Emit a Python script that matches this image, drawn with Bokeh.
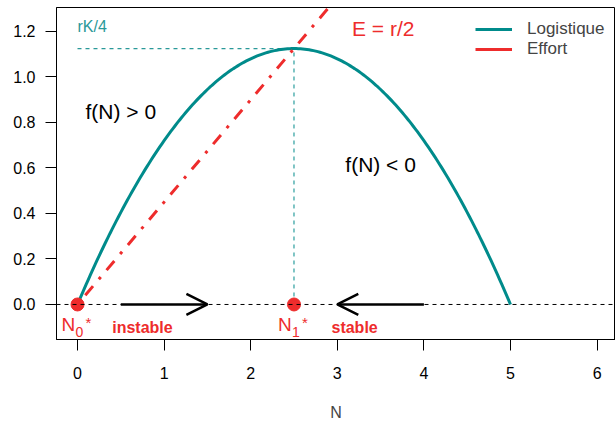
import numpy as np
from bokeh.plotting import figure
from bokeh.models import (Range1d, FixedTicker, Arrow, OpenHead, Legend, LegendItem,
                          ColumnDataSource, PrintfTickFormatter, Span)
from bokeh.embed import file_html
from bokeh.resources import INLINE
from bokeh.core.properties import value

# ---- model parameters ----
r = 0.9          # growth rate  (rK/4 = 1.125)
K = 5.0          # carrying capacity
E = r / 2        # effort

# logistic curve f(N) = r N (1 - N/K)
N_curve = np.linspace(0.0, K, 201)
f_curve = r * N_curve * (1.0 - N_curve / K)

# effort line E*N
N_effort = [0.0, 3.0]
effort = [E * n for n in N_effort]

# maximum of f (rK/4) reached at K/2
N_max = [0.0, K / 2]
f_max = [r * K / 4, r * K / 4]
N_vert = [K / 2, K / 2]
f_vert = [0.0, r * K / 4]

# equilibria
N_eq = [0.0, 2.5]
y_eq = [0.0, 0.0]
eq_main = ["N", "N"]
eq_sub = ["0", "1"]
eq_sup = ["*", "*"]

# stability labels
stab_x = [0.75, 3.2]
stab_y = [-0.1, -0.1]
stab_text = ["instable", "stable"]

# arrows on the N axis
arr_x0 = [0.5, 4.0]
arr_x1 = [1.5, 3.0]
arr_y = [0.0, 0.0]

# region labels
reg_x = [0.5, 3.5]
reg_y = [0.848, 0.617]
reg_text = ["f(N) > 0", "f(N) < 0"]

x_ticks = [0, 1, 2, 3, 4, 5, 6]
y_ticks = [0.0, 0.2, 0.4, 0.6, 0.8, 1.0, 1.2]

TEAL = "#008B8B"
TEAL_L = "#2A9999"
RED = "#EE2C2C"
FONT = "Liberation Sans"
NAN = float("nan")

p = figure(width=615, height=423,
           x_range=Range1d(-0.2425, 6.2125), y_range=Range1d(-0.154, 1.3055),
           output_backend="svg", toolbar_location=None,
           min_border_left=56, min_border_right=0, min_border_top=7, min_border_bottom=84)
p.xgrid.visible = False
p.ygrid.visible = False
p.outline_line_color = "black"
p.outline_line_width = 1
p.background_fill_color = "white"
p.border_fill_color = "white"

for ax in (p.xaxis[0], p.yaxis[0]):
    ax.major_tick_out = 11
    ax.major_tick_in = 0
    ax.minor_tick_out = 0
    ax.minor_tick_in = 0
    ax.major_tick_line_color = "black"
    ax.axis_line_color = "black"
    ax.major_label_text_font = FONT
    ax.major_label_text_font_size = "16px"
    ax.major_label_text_color = "black"

p.xaxis.ticker = FixedTicker(ticks=x_ticks)
p.xaxis.major_label_standoff = 16
p.xaxis.axis_label = "N"
p.xaxis.axis_label_text_font = FONT
p.xaxis.axis_label_text_font_size = "16px"
p.xaxis.axis_label_text_font_style = "normal"
p.xaxis.axis_label_standoff = 22

p.yaxis.ticker = FixedTicker(ticks=y_ticks)
p.yaxis.formatter = PrintfTickFormatter(format="%.1f")
p.yaxis.major_label_standoff = 10
p.yaxis.major_label_orientation = "horizontal"

# dashed N axis at 0
p.add_layout(Span(location=0, dimension="width", line_color="black",
                  line_width=1, line_dash="4 4"))

# rK/4 guides
p.line(N_max, f_max, line_color=TEAL_L, line_width=1.3, line_dash="4 4")
p.line(N_vert, f_vert, line_color=TEAL, line_width=1, line_dash="4 4")

# curves
curve = p.line(N_curve, f_curve, line_color=TEAL, line_width=3)
p.line(N_effort, effort, line_color=RED, line_width=3, line_dash="3 9 12 9")
proxy = p.line([NAN, NAN], [NAN, NAN], line_color=RED, line_width=3)

# arrows
arr_src = ColumnDataSource(dict(x0=arr_x0, x1=arr_x1, y=arr_y))
p.add_layout(Arrow(end=OpenHead(size=21, line_width=2.5, line_color="black"),
                   x_start="x0", y_start="y", x_end="x1", y_end="y",
                   line_width=2.5, line_color="black", source=arr_src))

# equilibria
p.scatter(N_eq, y_eq, size=13, color=RED)
p.text(N_eq, y_eq, text=eq_main, text_font=value(FONT), text_font_size="19px",
       text_color=RED, text_align="left", text_baseline="middle",
       x_offset=-16, y_offset=20)
p.text(N_eq, y_eq, text=eq_sub, text_font=value(FONT), text_font_size="14px",
       text_color=RED, text_align="left", text_baseline="middle",
       x_offset=-2, y_offset=28)
p.text(N_eq, y_eq, text=eq_sup, text_font=value(FONT), text_font_size="15px",
       text_color=RED, text_align="left", text_baseline="middle",
       x_offset=8, y_offset=18)

p.text(stab_x, stab_y, text=stab_text, text_font=value(FONT), text_font_size="16px",
       text_font_style="bold", text_color=RED, text_align="center", text_baseline="middle")

p.text(reg_x, reg_y, text=reg_text, text_font=value(FONT), text_font_size="21px",
       text_color="black", text_align="center", text_baseline="middle")

p.text([0.0], [1.22], text=["rK/4"], text_font=value(FONT), text_font_size="16px",
       text_color=TEAL_L, text_align="left", text_baseline="middle")
p.text([3.53], [1.215], text=["E = r/2"], text_font=value(FONT), text_font_size="21px",
       text_color=RED, text_align="center", text_baseline="middle")

legend = Legend(items=[LegendItem(label="Logistique", renderers=[curve]),
                       LegendItem(label="Effort", renderers=[proxy])],
                location=(419, 280), border_line_color=None, background_fill_alpha=0,
                label_text_font=FONT, label_text_font_size="17px",
                glyph_width=37, glyph_height=20, label_height=20, spacing=0,
                padding=0, margin=0, label_standoff=15)
p.add_layout(legend)

open("out.html", "w").write(file_html(p, INLINE))
